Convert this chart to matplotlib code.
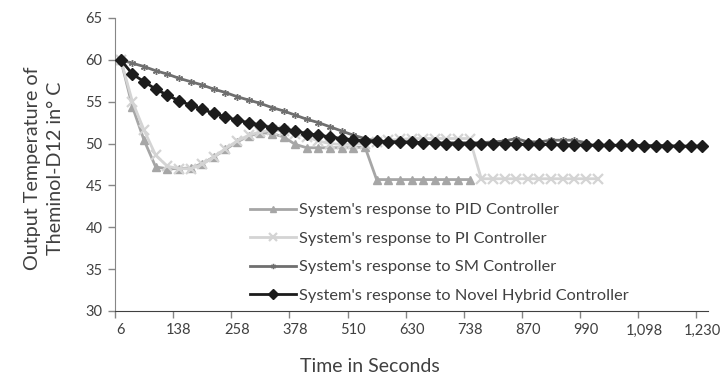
import matplotlib
matplotlib.use("Agg")
import matplotlib.pyplot as plt
import numpy as np

# Sample index along the category axis, with a label every fifth sample
tick_labels = ["6", "138", "258", "378", "510", "630", "738", "870", "990", "1,098", "1,230"]

pid = [60.0, 54.4, 50.4, 47.2, 47.0, 47.0, 47.1, 47.6, 48.4, 49.3,
       50.2, 50.9, 51.3, 51.2, 50.8, 49.9, 49.5, 49.5, 49.5, 49.5,
       49.5, 49.6, 45.7, 45.7, 45.7, 45.7, 45.7, 45.7, 45.7, 45.7, 45.7]

pi = [60.0, 55.0, 51.6, 48.6, 47.3, 47.0, 47.0, 47.5, 48.4, 49.4,
      50.3, 51.0, 51.4, 51.6, 51.5, 51.2, 50.8, 50.3, 50.0, 49.9,
      49.9, 50.0, 50.2, 50.4, 50.5, 50.6, 50.6, 50.6, 50.6, 50.6,
      50.6, 45.8, 45.8, 45.8, 45.8, 45.8, 45.8, 45.8, 45.8, 45.8,
      45.8, 45.8]

sm = [60.0, 59.6, 59.2, 58.7, 58.3, 57.8, 57.4, 57.0, 56.5, 56.1,
      55.6, 55.2, 54.8, 54.3, 53.9, 53.4, 52.9, 52.5, 52.0, 51.5,
      51.0, 50.6, 50.3, 50.2, 50.2, 50.1, 50.1, 50.1, 50.1, 50.1,
      50.1, 50.1, 50.2, 50.3, 50.6, 50.2, 50.2, 50.4, 50.4, 50.4,
      50.1]

hybrid = [60.0, 58.3, 57.4, 56.5, 55.8, 55.1, 54.6, 54.1, 53.6, 53.2,
          52.8, 52.5, 52.2, 51.9, 51.7, 51.5, 51.2, 51.0, 50.8, 50.6,
          50.45, 50.3, 50.3, 50.2, 50.2, 50.2, 50.1, 50.05, 50.0, 50.0,
          50.0, 50.0, 50.0, 50.0, 49.95, 49.9, 49.9, 49.9, 49.85, 49.85,
          49.85, 49.8, 49.8, 49.8, 49.8, 49.75, 49.75, 49.75, 49.7, 49.7,
          49.7]

font = "Lato"
plt.rcParams["font.family"] = [font, "DejaVu Sans"]

fig = plt.figure(figsize=(7.2, 3.82), dpi=100)
W, H = 720, 382
ax = fig.add_axes([115 / W, 71 / H, 593 / W, 293 / H])

ax.plot(np.arange(len(pid)), pid, color="#a6a6a6", lw=2.0, marker="^",
        ms=6, mec="#a6a6a6", mfc="#a6a6a6", label="System's response to PID Controller", zorder=2)
ax.plot(np.arange(len(pi)), pi, color="#d4d4d4", lw=2.0, marker="x",
        ms=7, mew=1.6, mec="#d4d4d4", label="System's response to PI Controller", zorder=2)
ax.plot(np.arange(len(sm)), sm, color="#6f6f6f", lw=2.0, marker=(6, 2, 0),
        ms=5, mew=1.0, mec="#6f6f6f", label="System's response to SM Controller", zorder=3)
ax.plot(np.arange(len(hybrid)), hybrid, color="#1c1c1c", lw=2.0, marker="D",
        ms=6.3, mec="#1c1c1c", mfc="#1c1c1c", label="System's response to Novel Hybrid Controller", zorder=4)

n = len(hybrid)
ax.set_xlim(-0.5, n - 0.5)
ax.set_ylim(30, 65)
ax.set_yticks(np.arange(30, 66, 5))

# tick marks on category boundaries, labels on category centres
ax.set_xticks(np.arange(0, n, 5) - 0.5)
ax.set_xticklabels([])
ax.set_xticks(np.arange(0, n, 5), minor=True)
ax.set_xticklabels(tick_labels, minor=True)
ax.tick_params(axis="x", which="major", length=5, width=1, color="#868686", direction="out")
ax.tick_params(axis="x", which="minor", length=0, pad=9, labelsize=10.5, labelcolor="#404040")
ax.tick_params(axis="y", length=5, width=1, color="#868686", direction="out",
               labelsize=10.5, labelcolor="#404040", pad=4)

for side in ("top", "right"):
    ax.spines[side].set_visible(False)
ax.spines["left"].set_color("#868686")
ax.spines["bottom"].set_color("#404040")

ax.set_xlabel("Time in Seconds", fontsize=14, color="#404040")
ax.xaxis.set_label_coords((370 - 115) / 593, -(366 - 311) / 293)
ax.xaxis.label.set_va("center")
ax.set_ylabel("Output Temperature of\nTheminol-D12 in° C", fontsize=14.2,
              color="#404040", linespacing=1.45)
ax.yaxis.set_label_coords(-(115 - 44) / 593, (311 - 168) / 293)
ax.yaxis.label.set_va("center")

ax.legend(loc="upper left", bbox_to_anchor=((250 - 115) / 593, (311 - 203) / 293),
          frameon=False, borderaxespad=0, borderpad=0, markerscale=0.75,
          fontsize=11.8, handlelength=2.8, labelspacing=0.85, handletextpad=0.2,
          labelcolor="#404040")

fig.savefig("out.png", dpi=100)
